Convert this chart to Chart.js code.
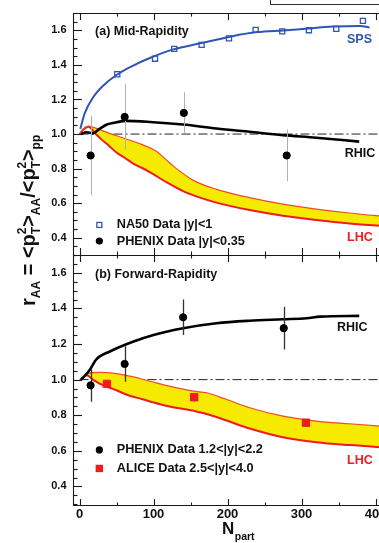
<!DOCTYPE html>
<html><head><meta charset="utf-8">
<script src="https://cdn.jsdelivr.net/npm/chart.js@4.4.0/dist/chart.umd.min.js"></script>
<style>
html,body{margin:0;padding:0;background:#fff;overflow:hidden;width:379px;height:543px;}
#wrap{position:relative;width:379px;height:543px;overflow:hidden;background:#fff;}
canvas{position:absolute;left:0;top:0;}
</style></head><body>
<div id="wrap"><canvas id="cBot" width="400" height="543"></canvas><canvas id="cTop" width="400" height="543"></canvas></div>
<script>
// ---------- data ----------
const xTicks = [0, 100, 200, 300, 400];
const yTicks = [0.4, 0.6, 0.8, 1.0, 1.2, 1.4, 1.6];

// (a) mid-rapidity
const N_SPS = [1, 7, 18, 32, 50, 72, 95, 127, 163, 205, 240, 275, 298, 343, 379, 392];
const R_SPS = [1.03, 1.12, 1.21, 1.28, 1.342, 1.395, 1.44, 1.49, 1.525, 1.565, 1.59, 1.6, 1.607, 1.622, 1.626, 1.617];
const N_NA50 = [51, 102, 128, 165, 202, 238, 274, 310, 347, 383];
const R_NA50 = [1.346, 1.436, 1.493, 1.516, 1.554, 1.603, 1.594, 1.601, 1.609, 1.655];
const N_PHX_MID = [15, 61, 141, 280];
const R_PHX_MID = [0.876, 1.099, 1.122, 0.876];
const E_PHX_MID = [0.23, 0.19, 0.12, 0.15];
const N_RHIC_MID = [2, 9, 18, 27, 37, 50, 62, 95, 140, 185, 230, 275, 320, 378];
const R_RHIC_MID = [1.0, 1.01, 1.004, 1.03, 1.055, 1.068, 1.076, 1.07, 1.055, 1.032, 1.013, 0.994, 0.979, 0.956];
const N_LHC_MID_UP = [0, 5, 12, 21, 38, 60, 84, 104, 116, 128, 154, 185, 230, 275, 320, 365, 420];
const R_LHC_MID_UP = [1.0, 1.03, 1.046, 1.036, 1.008, 0.976, 0.94, 0.9, 0.855, 0.81, 0.732, 0.68, 0.632, 0.594, 0.566, 0.543, 0.52];
const N_LHC_MID_LO = [0, 5, 12, 21, 28, 39, 50, 62, 73, 84, 95, 118, 140, 163, 185, 230, 275, 320, 365, 420];
const R_LHC_MID_LO = [1.0, 1.025, 1.042, 1.005, 0.975, 0.935, 0.893, 0.86, 0.828, 0.805, 0.78, 0.72, 0.67, 0.632, 0.603, 0.56, 0.527, 0.503, 0.483, 0.465];

// (b) forward-rapidity
const N_RHIC_FWD = [2, 8, 14, 23, 41, 73, 100, 140, 185, 230, 275, 307, 325, 378];
const R_RHIC_FWD = [1.0, 1.025, 1.056, 1.115, 1.158, 1.214, 1.251, 1.289, 1.317, 1.331, 1.339, 1.345, 1.354, 1.358];
const N_PHX_FWD = [15, 61, 140, 276];
const R_PHX_FWD = [0.968, 1.088, 1.35, 1.289];
const E_PHX_FWD = [0.093, 0.1, 0.1, 0.12];
const N_ALICE = [37, 155, 306];
const R_ALICE = [0.976, 0.901, 0.758];
const E_ALICE = [0.012, 0.025, 0.02];
const N_LHC_FWD_UP = [2, 10, 28, 50, 73, 95, 118, 154, 172, 199, 230, 275, 320, 365, 420];
const R_LHC_FWD_UP = [1.0, 1.034, 1.041, 1.034, 1.015, 0.991, 0.966, 0.935, 0.926, 0.888, 0.842, 0.795, 0.767, 0.752, 0.735];
const N_LHC_FWD_LO = [2, 10, 18, 32, 50, 64, 85, 109, 130, 154, 185, 199, 230, 275, 320, 365, 420];
const R_LHC_FWD_LO = [1.0, 1.025, 1.0, 0.968, 0.94, 0.915, 0.89, 0.862, 0.842, 0.825, 0.79, 0.77, 0.725, 0.676, 0.648, 0.632, 0.617];

const N_REF = [0, 420];
const R_REF = [1, 1];

// ---------- styling ----------
const FONT = '"Liberation Sans", Arial, Helvetica, sans-serif';
const BLUE = '#2f55b9', RED = '#ee1c1c', YELLOW = '#f5ea00', INK = '#111';

function pts(ns, rs) { return ns.map((n, i) => ({ x: n, y: rs[i] })); }
function curve(label, ns, rs, color, width, order, extra) {
  return Object.assign({ label, data: pts(ns, rs), showLine: true, borderColor: color, borderWidth: width,
    pointRadius: 0, pointHoverRadius: 0, cubicInterpolationMode: 'monotone', fill: false, order }, extra || {});
}
function markers(label, ns, rs, style, radius, fillC, borderC, bw, extra) {
  return Object.assign({ label, data: pts(ns, rs), showLine: false, pointStyle: style, pointRadius: radius,
    pointHoverRadius: radius, pointBackgroundColor: fillC, pointBorderColor: borderC, pointBorderWidth: bw, order: 0 }, extra || {});
}

const errorBars = {
  id: 'errorBars',
  beforeDatasetDraw(chart, args) {
    const ds = chart.data.datasets[args.index];
    if (!ds.errors) return;
    const ctx = chart.ctx, xs = chart.scales.x, ys = chart.scales.y, a = chart.chartArea;
    ctx.save();
    ctx.beginPath(); ctx.rect(a.left, a.top, a.right - a.left, a.bottom - a.top); ctx.clip();
    ctx.strokeStyle = ds.errorColor; ctx.lineWidth = ds.errorWidth;
    ds.data.forEach((p, i) => {
      const x = Math.round(xs.getPixelForValue(p.x)) + 0.5;
      ctx.beginPath();
      ctx.moveTo(x, ys.getPixelForValue(p.y - ds.errors[i]));
      ctx.lineTo(x, ys.getPixelForValue(p.y + ds.errors[i]));
      ctx.stroke();
    });
    ctx.restore();
  }
};

function framePlugin(cfg) {
  return {
    id: 'frame',
    afterDraw(chart) {
      const ctx = chart.ctx, xs = chart.scales.x, ys = chart.scales.y, a = chart.chartArea;
      ctx.save();
      ctx.strokeStyle = '#1a1a1a'; ctx.lineWidth = 1.1;
      const L = (x1, y1, x2, y2) => { ctx.beginPath(); ctx.moveTo(x1, y1); ctx.lineTo(x2, y2); ctx.stroke(); };
      const lx = Math.round(a.left) + 0.5;
      L(lx, a.top, lx, a.bottom);
      L(a.left, Math.round(a.top) + 0.5, a.right, Math.round(a.top) + 0.5);
      if (cfg.bottomLine) L(a.left, Math.round(a.bottom) - 0.5, a.right, Math.round(a.bottom) - 0.5);
      for (let k = Math.ceil(ys.min / 0.05 - 1e-6); k * 0.05 <= ys.max + 1e-9; k++) {
        const major = (k % 4 === 0);
        const y = Math.round(ys.getPixelForValue(k * 0.05)) + 0.5;
        L(a.left, y, a.left + (major ? 9 : 4.5), y);
      }
      for (let v = 0; v <= xs.max; v += 50) {
        const major = (v % 100 === 0);
        const x = Math.round(xs.getPixelForValue(v)) + 0.5;
        const len = major ? 7 : 3.5;
        L(x, a.top, x, a.top + len);
        L(x, a.bottom, x, a.bottom - len);
      }
      if (cfg.box) {
        ctx.fillStyle = '#fff'; ctx.strokeStyle = '#333'; ctx.lineWidth = 1;
        ctx.fillRect(270.5, -10, 200, 14.5); ctx.strokeRect(270.5, -10, 200, 14.5);
      }
      ctx.restore();
    }
  };
}

function annotPlugin(items) {
  return {
    id: 'annot',
    afterDraw(chart) {
      const ctx = chart.ctx, xs = chart.scales.x, ys = chart.scales.y;
      ctx.save();
      ctx.textBaseline = 'middle'; ctx.textAlign = 'left';
      for (const it of items) {
        const x = xs.getPixelForValue(it.n), y = ys.getPixelForValue(it.v);
        if (it.t) {
          ctx.font = `bold ${it.size}px ${FONT}`; ctx.fillStyle = it.color || INK;
          ctx.fillText(it.t, x, y);
        } else if (it.m === 'circle') {
          ctx.fillStyle = '#000'; ctx.beginPath(); ctx.arc(x, y, 3.6, 0, Math.PI * 2); ctx.fill();
        } else if (it.m === 'openSquare') {
          ctx.strokeStyle = BLUE; ctx.lineWidth = 1.3; ctx.strokeRect(x - 2.5, y - 2.5, 5, 5);
        } else if (it.m === 'redSquare') {
          ctx.fillStyle = RED; ctx.fillRect(x - 3.7, y - 3.7, 7.4, 7.4);
        }
      }
      ctx.restore();
    }
  };
}

function drawRich(ctx, pieces, x, y) {
  let cx = x;
  for (const p of pieces) {
    if (p.stack) {
      let w = 0;
      for (const s of p.stack) {
        ctx.font = `bold ${s.size}px ${FONT}`;
        ctx.fillText(s.t, cx, y + s.dy);
        w = Math.max(w, ctx.measureText(s.t).width);
      }
      cx += w;
    } else {
      ctx.font = `bold ${p.size}px ${FONT}`;
      ctx.fillText(p.t, cx, y + p.dy);
      cx += ctx.measureText(p.t).width;
    }
  }
  return cx - x;
}

const titlesPlugin = {
  id: 'titles',
  afterDraw(chart) {
    const ctx = chart.ctx;
    ctx.save();
    ctx.fillStyle = INK; ctx.textBaseline = 'alphabetic'; ctx.textAlign = 'left';
    const M = 20, S = 12;
    const pT = { stack: [{ t: '2', size: S, dy: -9 }, { t: 'T', size: S, dy: 5 }] };
    const pieces = [
      { t: 'r', size: M, dy: 0 }, { t: 'AA', size: S, dy: 5 }, { t: ' = ', size: M, dy: 0 },
      { t: '<', size: M, dy: 0 }, { t: 'p', size: M, dy: 0 }, pT, { t: '>', size: M, dy: 0 },
      { t: 'AA', size: S, dy: 5 }, { t: '/', size: M, dy: 0 },
      { t: '<', size: M, dy: 0 }, { t: 'p', size: M, dy: 0 }, pT, { t: '>', size: M, dy: 0 },
      { t: 'pp', size: S, dy: 5 }
    ];
    ctx.translate(35, 306);
    ctx.rotate(-Math.PI / 2);
    drawRich(ctx, pieces, 0, 0);
    ctx.restore();

    ctx.save();
    ctx.fillStyle = INK; ctx.textBaseline = 'alphabetic';
    ctx.font = `bold 17px ${FONT}`;
    ctx.fillText('N', 222, 534);
    const w = ctx.measureText('N').width;
    ctx.font = `bold 10.5px ${FONT}`;
    ctx.fillText('part', 222 + w + 0.5, 539.5);
    ctx.restore();
  }
};

function scales(ymin, ymax, showX) {
  const x = {
    type: 'linear', min: -8.8, max: 420, display: showX,
    afterBuildTicks: s => { s.ticks = xTicks.map(v => ({ value: v })); },
    ticks: { autoSkip: false, maxRotation: 0, padding: 1, color: INK, font: { family: FONT, size: 13, weight: 'bold' } },
    grid: { display: false, drawTicks: false }, border: { display: false }
  };
  if (showX) x.afterFit = s => { s.height = 37; };
  return {
    x,
    y: {
      type: 'linear', min: ymin, max: ymax,
      afterBuildTicks: s => { s.ticks = yTicks.map(v => ({ value: v })); },
      afterFit: s => { s.width = 73; },
      ticks: { autoSkip: false, padding: 6.5, color: INK, callback: v => Number(v).toFixed(1), font: { family: FONT, size: 11, weight: 'bold' } },
      grid: { display: false, drawTicks: false }, border: { display: false }
    }
  };
}

const common = {
  responsive: false, animation: false, devicePixelRatio: 1,
  plugins: { legend: { display: false }, tooltip: { enabled: false } },
  events: []
};

// ---------- top panel ----------
new Chart(document.getElementById('cTop'), {
  type: 'scatter',
  data: {
    datasets: [
      markers('PHENIX |y|<0.35', N_PHX_MID, R_PHX_MID, 'circle', 3.6, '#000', '#000', 1,
        { errors: E_PHX_MID, errorColor: '#b0b0b0', errorWidth: 1 }),
      markers('NA50 |y|<1', N_NA50, R_NA50, 'rect', 3.6, 'rgba(0,0,0,0)', BLUE, 1.3),
      curve('SPS', N_SPS, R_SPS, BLUE, 2, 1),
      curve('RHIC', N_RHIC_MID, R_RHIC_MID, '#000', 2.6, 1),
      curve('LHC upper', N_LHC_MID_UP, R_LHC_MID_UP, '#f24a2a', 1.2, 2),
      curve('LHC lower', N_LHC_MID_LO, R_LHC_MID_LO, RED, 2, 2, { fill: '-1', backgroundColor: YELLOW }),
      curve('ref', N_REF, R_REF, '#222', 1, 3, { borderDash: [9, 3, 2, 3], cubicInterpolationMode: 'default', tension: 0 })
    ]
  },
  options: Object.assign({}, common, {
    layout: { padding: { left: 0, right: 9.7, top: 10, bottom: 288 } },
    scales: scales(0.3, 1.7, false)
  }),
  plugins: [errorBars, framePlugin({ bottomLine: false, box: true }), annotPlugin([
    { t: '(a) Mid-Rapidity', n: 21, v: 1.591, size: 12.5 },
    { t: 'SPS', n: 361.5, v: 1.545, size: 12.5, color: BLUE },
    { t: 'RHIC', n: 358.5, v: 0.887, size: 12.5 },
    { t: 'LHC', n: 361.5, v: 0.402, size: 12.5, color: RED },
    { m: 'openSquare', n: 26.8, v: 0.474 },
    { t: 'NA50 Data |y|<1', n: 50.3, v: 0.474, size: 12.7 },
    { m: 'circle', n: 26.8, v: 0.381 },
    { t: 'PHENIX Data |y|<0.35', n: 50.3, v: 0.381, size: 12.7 }
  ])]
});

// ---------- bottom panel ----------
new Chart(document.getElementById('cBot'), {
  type: 'scatter',
  data: {
    datasets: [
      markers('PHENIX 1.2<|y|<2.2', N_PHX_FWD, R_PHX_FWD, 'circle', 3.6, '#000', '#000', 1,
        { errors: E_PHX_FWD, errorColor: '#333', errorWidth: 1.3 }),
      markers('ALICE 2.5<|y|<4.0', N_ALICE, R_ALICE, 'rect', 5.2, RED, RED, 1,
        { errors: E_ALICE, errorColor: '#f08a2a', errorWidth: 1.3 }),
      curve('RHIC', N_RHIC_FWD, R_RHIC_FWD, '#000', 2.6, 1),
      curve('LHC upper', N_LHC_FWD_UP, R_LHC_FWD_UP, '#f24a2a', 1.2, 2),
      curve('LHC lower', N_LHC_FWD_LO, R_LHC_FWD_LO, RED, 2, 2, { fill: '-1', backgroundColor: YELLOW }),
      curve('ref', N_REF, R_REF, '#222', 1, 3, { borderDash: [9, 3, 2, 3], cubicInterpolationMode: 'default', tension: 0 })
    ]
  },
  options: Object.assign({}, common, {
    layout: { padding: { left: 0, right: 9.7, top: 255, bottom: 0 } },
    scales: scales(0.29, 1.7, true)
  }),
  plugins: [errorBars, framePlugin({ bottomLine: true, box: false }), titlesPlugin, annotPlugin([
    { t: '(b) Forward-Rapidity', n: 21, v: 1.592, size: 12.5 },
    { t: 'RHIC', n: 348, v: 1.29, size: 12.5 },
    { t: 'LHC', n: 361.5, v: 0.544, size: 12.5, color: RED },
    { m: 'circle', n: 26.8, v: 0.605 },
    { t: 'PHENIX Data 1.2<|y|<2.2', n: 50.3, v: 0.605, size: 12.7 },
    { m: 'redSquare', n: 26.8, v: 0.501 },
    { t: 'ALICE Data 2.5<|y|<4.0', n: 50.3, v: 0.501, size: 12.7 }
  ])]
});
</script>
</body></html>
